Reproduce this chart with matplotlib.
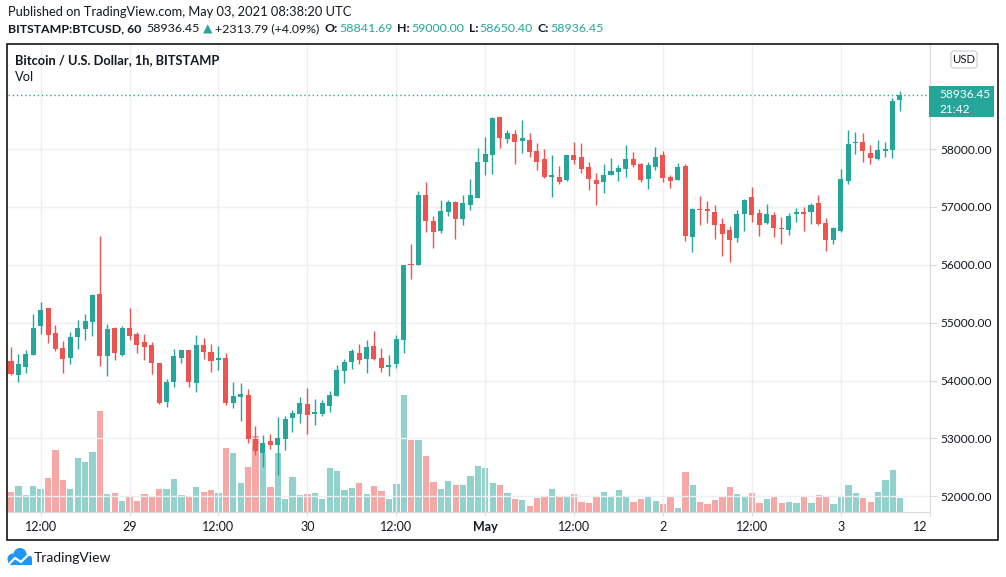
import matplotlib
matplotlib.use("Agg")
import matplotlib.pyplot as plt
import matplotlib.patches as mpatches
import matplotlib.transforms as mtransforms
from matplotlib.lines import Line2D
import numpy as np
import pandas as pd

# ---------------- data ----------------
start_time = "2021-04-28 08:00"
opens = [54333, 54098, 54230, 54443, 54937, 55247, 54816, 54557, 54391, 54747,
         54891, 55011, 55489, 54425, 54902, 54443, 54902, 54799, 54661, 54609,
         54299, 53634, 53980, 54395, 54527, 53963, 54614, 54493, 54360, 54389,
         53617, 53720, 53749, 52988, 52746, 52954, 52885, 52994, 53357, 53427,
         53594, 53425, 53425, 53562, 53729, 54159, 54314, 54469, 54366, 54590,
         54383, 54228, 54280, 54693, 56019, 56001, 57207, 56759, 56587, 56914,
         57086, 56793, 57032, 57153, 57775, 57896, 58553, 58173, 58259, 58138,
         58156, 57965, 57827, 57516, 57516, 57464, 57896, 57862, 57689, 57464,
         57430, 57551, 57603, 57654, 57827, 57741, 57482, 57689, 57896, 57516,
         57464, 57706, 56479, 56963, 56963, 56911, 56704, 56600, 56462, 56877,
         57170, 56894, 56721, 56859, 56640, 56605, 56882, 56916, 56916, 57072,
         56726, 56432, 56588, 57452, 58098, 58127, 57937, 57833, 57971, 57988,
         58841.69]
highs = [54575, 54454, 54523, 55144, 55351, 55247, 54954, 54678, 54833, 55040,
         55144, 55489, 56506, 54971, 54920, 54937, 55247, 54833, 54799, 54661,
         54299, 54020, 54539, 54527, 54527, 54787, 54729, 54631, 54597, 54470,
         53974, 53951, 53853, 53213, 53058, 53075, 53369, 53386, 53490, 53715,
         53870, 53677, 53660, 53821, 54263, 54366, 54538, 54624, 54693, 54865,
         54555, 54435, 54796, 55996, 56363, 57275, 57430, 56845, 57121, 57121,
         57103, 57207, 57482, 58017, 58207, 58553, 58553, 58328, 58328, 58501,
         58276, 58104, 58000, 57896, 57706, 57896, 58121, 58104, 57775, 57585,
         57741, 57844, 57724, 58069, 57948, 57758, 57775, 58035, 57965, 57551,
         57758, 57741, 56980, 57188, 57101, 57032, 56808, 56669, 56946, 57136,
         57343, 56963, 57050, 56911, 56830, 56899, 56986, 57003, 57072, 57210,
         56813, 56657, 57660, 58334, 58300, 58282, 58075, 58161, 58127, 58888,
         59000.00]
lows = [54098, 53977, 54132, 54437, 54799, 54649, 54506, 54132, 54287, 54546,
        54695, 54770, 54253, 54080, 54356, 54425, 54695, 54477, 54356, 54115,
        53598, 53548, 53893, 54308, 53893, 53807, 54378, 54153, 54187, 53582,
        53530, 53305, 52919, 52718, 52510, 52821, 52372, 52804, 53115, 53271,
        53081, 53230, 53390, 53459, 53729, 53958, 54194, 54280, 54125, 54349,
        54142, 54073, 54211, 54469, 55760, 56001, 56570, 56294, 56552, 56845,
        56449, 56690, 56946, 57153, 57551, 57568, 58017, 58104, 57741, 57931,
        57862, 57637, 57499, 57171, 57395, 57447, 57741, 57585, 57291, 57032,
        57240, 57551, 57447, 57516, 57689, 57430, 57309, 57637, 57430, 57326,
        57464, 56410, 56220, 56687, 56721, 56445, 56151, 56047, 56393, 56583,
        56738, 56497, 56704, 56479, 56363, 56519, 56744, 56588, 56709, 56692,
        56242, 56363, 56571, 57401, 57919, 57781, 57746, 57816, 57867, 57850,
        58650.40]
closes = [54115, 54282, 54454, 54902, 55213, 54787, 54540, 54374, 54747, 54902,
          55023, 55471, 54425, 54885, 54477, 54902, 54770, 54615, 54580, 54305,
          53615, 53968, 54424, 54527, 53980, 54614, 54499, 54343, 54389, 53617,
          53726, 53767, 52994, 52787, 52919, 52885, 53006, 53334, 53438, 53611,
          53409, 53453, 53608, 53746, 54176, 54314, 54504, 54349, 54572, 54366,
          54211, 54263, 54727, 55996, 56001, 57207, 56759, 56570, 56931, 57086,
          56793, 57069, 57205, 57775, 57914, 58536, 58190, 58276, 58121, 58190,
          57948, 57775, 57516, 57551, 57430, 57896, 57810, 57654, 57482, 57395,
          57551, 57620, 57672, 57827, 57724, 57464, 57724, 57862, 57499, 57447,
          57689, 56497, 56963, 56946, 56929, 56687, 56531, 56427, 56877, 57119,
          56859, 56687, 56877, 56635, 56611, 56847, 56916, 56882, 57037, 56709,
          56432, 56640, 57487, 58092, 58115, 57971, 57850, 57988, 58006, 58836,
          58936.45]
volumes = [207, 267, 177, 267, 237, 347, 627, 327, 237, 547,
           507, 607, 1017, 187, 197, 117, 167, 117, 187, 167,
           230, 230, 330, 170, 150, 250, 200, 220, 190, 640,
           590, 290, 450, 760, 590, 250, 590, 130, 350, 170,
           180, 190, 130, 440, 410, 220, 240, 290, 180, 260,
           210, 130, 280, 1170, 720, 720, 560, 300, 230, 310,
           270, 270, 360, 460, 440, 290, 270, 190, 130, 120,
           60, 140, 150, 230, 150, 150, 180, 100, 90, 160,
           200, 150, 220, 150, 100, 130, 160, 110, 80, 150,
           40, 400, 270, 100, 80, 120, 150, 250, 180, 150,
           190, 90, 130, 160, 90, 100, 90, 160, 90, 170,
           160, 80, 160, 270, 190, 140, 100, 200, 320, 420,
           140]
price_ticks = [52000, 53000, 54000, 55000, 56000, 57000, 58000]
time_tick_start = "2021-04-28 12:00"
time_tick_end = "2021-05-03 12:00"
time_tick_labels = ["12:00", "29", "12:00", "30", "12:00", "May", "12:00", "2", "12:00", "3", "12"]
last_price = 58936.45
countdown = "21:42"
title_line = "Published on TradingView.com, May 03, 2021 08:38:20 UTC"
symbol_text = "BITSTAMP:BTCUSD, 60"
change_text = "+2313.79 (+4.09%)"
chart_title = "Bitcoin / U.S. Dollar, 1h, BITSTAMP"

# ---------------- style ----------------
W, H = 1006, 577
UP = "#26a69a"
DOWN = "#ef5350"
TXT = "#131722"
GRID = "#eceff3"
SEP = "#d9dbe0"
FONT = ["Lato", "DejaVu Sans"]
plt.rcParams["font.family"] = FONT
AXFS = 8.6

fig = plt.figure(figsize=(W / 100, H / 100), dpi=100)
fig.patch.set_facecolor("white")

def fx(x):
    return x / W

def fy(y):
    return 1 - y / H

left, right, top, bottom = 8, 929.5, 44, 512.3
rect = [fx(left), fy(bottom), (right - left) / W, (bottom - top) / H]

times = pd.date_range(start_time, periods=len(opens), freq="h")
xs = np.arange(len(opens))
o = np.array(opens, dtype=float)
h = np.array(highs, dtype=float)
l = np.array(lows, dtype=float)
c = np.array(closes, dtype=float)
v = np.array(volumes, dtype=float)
up = c >= o
colors = np.where(up, UP, DOWN)

xlim = (-0.405, 123.94)

# volume axes (underneath)
axv = fig.add_axes(rect)
axv.set_xlim(*xlim)
axv.set_ylim(0, 4683)
axv.bar(xs, v, width=0.85, color=colors, alpha=0.5, linewidth=0)
axv.axis("off")

# price axes
ax = fig.add_axes(rect)
ax.set_facecolor("none")
ax.set_xlim(*xlim)
ax.set_ylim(51724, 59816)

tick_times = pd.date_range(time_tick_start, time_tick_end, freq="12h")
tick_pos = (tick_times - times[0]) / pd.Timedelta(hours=1)
ax.set_xticks(tick_pos)
ax.set_xticklabels(time_tick_labels)
ax.set_yticks(price_ticks)
ax.set_yticklabels([f"{p:.2f}" for p in price_ticks])
ax.yaxis.tick_right()
ax.grid(True, color=GRID, linewidth=1.0, zorder=0)
ax.set_axisbelow(True)
ax.tick_params(axis="y", length=5, color=SEP, pad=3, labelsize=AXFS, labelcolor=TXT)
ax.tick_params(axis="x", length=3, color=SEP, pad=3.5, labelsize=9.0, labelcolor=TXT)
for lab in ax.get_xticklabels():
    if lab.get_text() == "May":
        lab.set_fontweight("bold")
lastlab = ax.get_xticklabels()[-1]
lastlab.set_horizontalalignment("right")
lastlab.set_transform(lastlab.get_transform() + mtransforms.ScaledTranslation(-2 / 100, 0, fig.dpi_scale_trans))

for s in ["top", "left"]:
    ax.spines[s].set_visible(False)
for s in ["right", "bottom"]:
    ax.spines[s].set_color(SEP)
    ax.spines[s].set_linewidth(0.8)

# candles
ax.vlines(xs, l, h, colors=colors, linewidth=1.0, zorder=3)
body_h = np.maximum(np.abs(c - o), 18)
ax.bar(xs, body_h, bottom=np.minimum(o, c), width=0.68, color=colors, linewidth=0, zorder=4)

# last price dotted line
ax.axhline(last_price, color=UP, linestyle=(0, (1, 2)), linewidth=1.0, zorder=2)

# ------------- overlays in pixel coords -------------
ID = mtransforms.IdentityTransform()

def prect(x0, y0, x1, y1, **kw):
    p = mpatches.Rectangle((x0, H - y1), x1 - x0, y1 - y0, transform=ID, **kw)
    fig.add_artist(p)
    return p

# outer frame
prect(7, 44, 998, 540, fill=False, edgecolor="black", linewidth=1.1, zorder=10)

# price label box
prect(929, 86, 994, 117, facecolor=UP, edgecolor="none", zorder=11)
fig.text(fx(939), fy(94), f"{last_price:.2f}", color="white", fontsize=AXFS, va="center", ha="left", zorder=12)
fig.text(fx(939), fy(110), countdown, color="white", fontsize=AXFS, va="center", ha="left", zorder=12)

# USD box
usd = mpatches.FancyBboxPatch((951, H - 68), 26, 17, boxstyle="round,pad=0,rounding_size=3",
                              transform=ID, facecolor="white", edgecolor="#c8cbd3", linewidth=0.8, zorder=11)
fig.add_artist(usd)
fig.text(fx(964), fy(59.5), "USD", color=TXT, fontsize=8.2, va="center", ha="center", zorder=12)

# chart titles
fig.text(fx(15), fy(60), chart_title, color=TXT, fontsize=9.3, fontweight="bold", va="center", ha="left")
fig.text(fx(15), fy(77), "Vol", color=TXT, fontsize=9.3, va="center", ha="left")

# header lines
fig.text(fx(8), fy(12), title_line, color=TXT, fontsize=9.3, va="center", ha="left")

fig.canvas.draw()
renderer = fig.canvas.get_renderer()

def chain(x, y, parts):
    for s, col, wt, gap in parts:
        t = fig.text(fx(x), fy(y), s, color=col, fontsize=8.9, fontweight=wt, va="center", ha="left")
        bb = t.get_window_extent(renderer)
        x = bb.x1 + gap
    return x

chain(8, 29, [
    (symbol_text, TXT, "bold", 5),
    (f"{closes[-1]:.2f}", TXT, "normal", 3),
    ("▲", UP, "normal", 3),
    (change_text, TXT, "normal", 5),
    ("O:", TXT, "bold", 1),
    (f"{opens[-1]:.2f}", UP, "normal", 5),
    ("H:", TXT, "bold", 1),
    (f"{highs[-1]:.2f}", UP, "normal", 5),
    ("L:", TXT, "bold", 1),
    (f"{lows[-1]:.2f}", UP, "normal", 5),
    ("C:", TXT, "bold", 1),
    (f"{closes[-1]:.2f}", UP, "normal", 0),
])

# TradingView logo
BLUE = "#2196f3"
for (cx, cy, r) in [(13, 559, 5.5), (20, 554.5, 6.5), (27, 559, 5.0)]:
    fig.add_artist(mpatches.Circle((cx, H - cy), r, transform=ID, facecolor=BLUE, edgecolor="none"))
prect(8, 558, 32, 565, facecolor=BLUE, edgecolor="none")
fig.add_artist(Line2D([8, 15, 21, 28, 33], [H - 565, H - 558, H - 562, H - 555, H - 555],
                      transform=ID, color="white", linewidth=1.6))
fig.text(fx(34), fy(558), "TradingView", color=TXT, fontsize=10, va="center", ha="left")

fig.savefig("out.png", dpi=100, facecolor="white")
